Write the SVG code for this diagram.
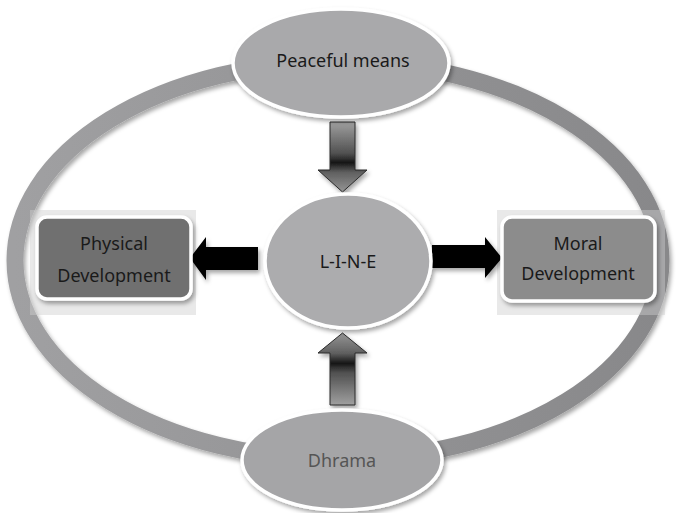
<svg xmlns="http://www.w3.org/2000/svg" width="676" height="513" viewBox="0 0 676 513">
<style>
  .lbl { font-family: "Noto Sans", "DejaVu Sans", sans-serif; font-size: 18px; fill: #1a1a1a; text-anchor: middle; }
  .node { stroke: #ffffff; stroke-width: 3.5; filter: url(#sh); }
  .blk { fill: #000000; filter: url(#sh); }
  .grad { stroke: #2a2a2a; stroke-width: 1; filter: url(#sh); }
  .back { fill: #cfcfcf; opacity: 0.45; }
</style>
<defs>
  <filter id="sh" x="-20%" y="-20%" width="140%" height="150%">
    <feDropShadow dx="2" dy="3" stdDeviation="2.2" flood-color="#000" flood-opacity="0.35"/>
  </filter>
  <linearGradient id="ringG" x1="0" y1="0" x2="1" y2="0">
    <stop offset="0" stop-color="#a0a0a2"/>
    <stop offset="1" stop-color="#88888a"/>
  </linearGradient>
  <linearGradient id="downG" gradientUnits="userSpaceOnUse" x1="0" y1="122" x2="0" y2="192">
    <stop offset="0" stop-color="#a0a0a0"/>
    <stop offset="0.45" stop-color="#505050"/>
    <stop offset="0.58" stop-color="#161616"/>
    <stop offset="0.72" stop-color="#606060"/>
    <stop offset="1" stop-color="#959595"/>
  </linearGradient>
  <linearGradient id="upG" gradientUnits="userSpaceOnUse" x1="0" y1="405" x2="0" y2="333">
    <stop offset="0" stop-color="#a0a0a0"/>
    <stop offset="0.45" stop-color="#505050"/>
    <stop offset="0.58" stop-color="#161616"/>
    <stop offset="0.72" stop-color="#606060"/>
    <stop offset="1" stop-color="#959595"/>
  </linearGradient>
</defs>

<!-- outer ring -->
<ellipse cx="338" cy="260.5" rx="323" ry="199" fill="none" stroke="url(#ringG)" stroke-width="17" filter="url(#sh)"/>

<!-- faint backing rectangles -->
<rect class="back" x="30" y="210" width="166" height="105"/>
<rect class="back" x="497" y="210" width="168" height="105"/>

<g id="connectors">
  <path class="grad" fill="url(#downG)" d="M330,122 H355 V170 H367 L342.5,192 L318,170 H330 Z"/>
  <path class="grad" fill="url(#upG)" d="M330,405 H355 V353 H367 L342.5,333 L318,353 H330 Z"/>
  <path class="blk" d="M258,247 V270 H206 V280 L190,258 L206,237 V247 Z"/>
  <path class="blk" d="M432,245 V268 H485 V278 L502,258 L485,237 V245 Z"/>
</g>

<g id="peaceful">
  <ellipse class="node" cx="341" cy="63" rx="108" ry="54" fill="#a9a9ab"/>
  <text class="lbl" x="343" y="67">Peaceful means</text>
</g>

<g id="line">
  <ellipse class="node" cx="348" cy="261" rx="83" ry="67" fill="#acacae"/>
  <text class="lbl" x="348" y="268">L-I-N-E</text>
</g>

<g id="physical">
  <rect class="node" x="37" y="217" width="154" height="82" rx="10" fill="#6f6f6f"/>
  <text class="lbl" x="114" y="250">Physical</text>
  <text class="lbl" x="114" y="282">Development</text>
</g>

<g id="moral">
  <rect class="node" x="502" y="217" width="153" height="84" rx="10" fill="#8c8c8c"/>
  <text class="lbl" x="578" y="250">Moral</text>
  <text class="lbl" x="578" y="280">Development</text>
</g>

<g id="dhrama">
  <ellipse class="node" cx="342" cy="460" rx="100" ry="50" fill="#a5a5a7"/>
  <text class="lbl" x="342" y="467" style="fill:#555555">Dhrama</text>
</g>
</svg>
